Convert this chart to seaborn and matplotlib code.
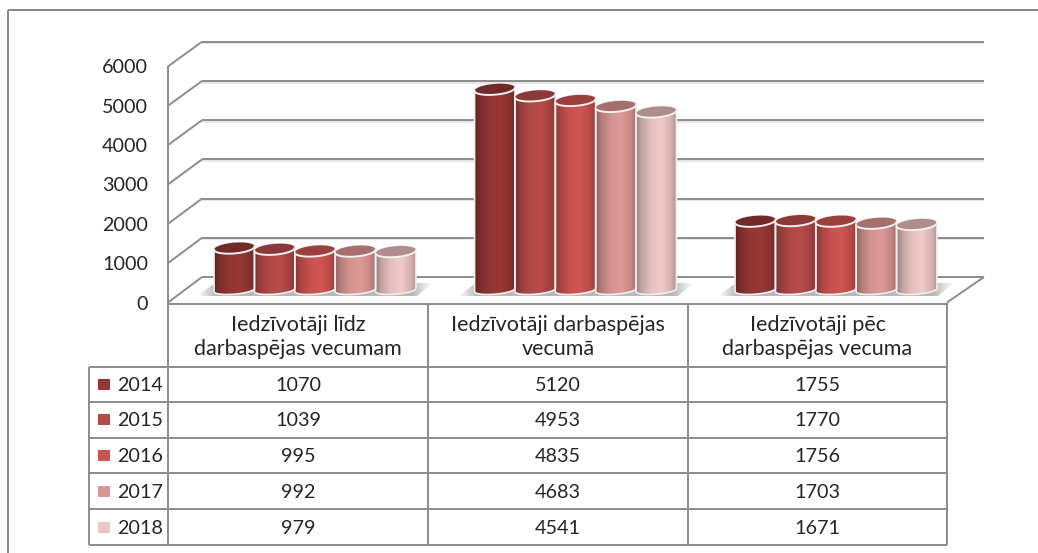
import numpy as np
import pandas as pd
import matplotlib
matplotlib.use("Agg")
import matplotlib.pyplot as plt
from matplotlib.patches import Polygon, Rectangle
import seaborn as sns

# ---------- data ----------
categories = ["Iedzīvotāji līdz\ndarbaspējas vecumam",
              "Iedzīvotāji darbaspējas\nvecumā",
              "Iedzīvotāji pēc\ndarbaspējas vecuma"]
years = ["2014", "2015", "2016", "2017", "2018"]
v2014 = [1070, 5120, 1755]
v2015 = [1039, 4953, 1770]
v2016 = [995, 4835, 1756]
v2017 = [992, 4683, 1703]
v2018 = [979, 4541, 1671]
y_ticks = [0, 1000, 2000, 3000, 4000, 5000, 6000]
series = [v2014, v2015, v2016, v2017, v2018]
body_colors = ["#953735", "#B34A48", "#CB5350", "#D99694", "#EBC4C4"]
top_colors = ["#722A29", "#8B3836", "#9C403E", "#A56F6E", "#AF8D8D"]

df = pd.DataFrame({
    "cat": np.repeat(categories, len(years)),
    "year": years * len(categories),
    "value": [s[i] for i in range(len(categories)) for s in series],
})

# ---------- layout (pixels) ----------
W, H = 1038, 553
FONT = "Lato"
TXT = "#262626"
LINE = "#8E8E8E"
sns.set_theme(style="white")
plt.rcParams["font.family"] = [FONT, "DejaVu Sans"]

fig = plt.figure(figsize=(W / 100, H / 100), dpi=100, facecolor="white")
bg = fig.add_axes([0, 0, 1, 1])
bg.set_xlim(0, W)
bg.set_ylim(H, 0)
bg.axis("off")

PX_PER_UNIT = 0.0392
BACK0, FRONT0 = 277.0, 302.5
XF0, XF1, XB0, XB1 = 168, 947, 202, 984
COLS = [168, 428, 688, 947]
ROWS = [366.5, 402, 437.5, 473, 509, 545]
LEFT = 89


def seg(xs, ys, lw=2.0, c=LINE, z=2):
    bg.plot(xs, ys, color=c, lw=lw * 0.72, solid_capstyle="butt", zorder=z)


# outer frame
seg([8, W], [10, 10], lw=2.0, c="#8A8A8A")
seg([8, 8], [10, H], lw=2.0, c="#8A8A8A")

# walls and gridlines
for t in y_ticks:
    yb = BACK0 - t * PX_PER_UNIT
    yf = FRONT0 - t * PX_PER_UNIT * 1.004
    if t:
        seg([XB0, XB1], [yb + 1.6, yb + 1.6], lw=1.5, c="#DEDEDE", z=1)
    seg([XB0, XB1], [yb, yb])
    seg([XF0, XB0], [yf, yb])
    bg.text(148, yf + 1.5, f"{t}", ha="right", va="center", fontsize=14.2, color=TXT)
seg([XF0, XF0], [FRONT0, FRONT0 - 6000 * PX_PER_UNIT * 1.004])
seg([XF1, XB1], [FRONT0, BACK0])

# table
seg([XF0, XF1], [FRONT0 + 1, FRONT0 + 1])
seg([LEFT, XF1], [ROWS[0], ROWS[0]])
for y in ROWS[1:]:
    seg([LEFT, XF1], [y, y])
for x in COLS:
    seg([x, x], [FRONT0, ROWS[-1]])
seg([LEFT, LEFT], [ROWS[0], ROWS[-1]])

for i, cat in enumerate(categories):
    cx = (COLS[i] + COLS[i + 1]) / 2
    bg.text(cx, 337, cat, ha="center", va="center", fontsize=15.5,
            color=TXT, linespacing=1.25)
for r, (yr, s, col) in enumerate(zip(years, series, body_colors)):
    cy = (ROWS[r] + ROWS[r + 1]) / 2 + 1
    bg.add_patch(Rectangle((98, cy - 6.5), 11.5, 11, fc=col, ec="none", zorder=3))
    bg.text(140.5, cy, yr, ha="center", va="center", fontsize=14.2, color=TXT)
    for i, v in enumerate(s):
        bg.text((COLS[i] + COLS[i + 1]) / 2, cy, f"{v}", ha="center",
                va="center", fontsize=14.2, color=TXT)

# floor shadows
GROUP_C = [315.0, 576.0, 836.0]
for c in GROUP_C:
    xs = np.linspace(c - 118, c + 118, 240)
    alpha = np.clip(np.minimum((xs - (c - 118)) / 18,
                               ((c + 118) - xs) / 20), 0, 1) * 0.55
    rgba = np.zeros((1, len(xs), 4))
    rgba[..., :3] = 0.5
    rgba[..., 3] = alpha
    im = bg.imshow(rgba, extent=(xs[0], xs[-1], 296, 283), aspect="auto",
                   interpolation="bilinear", zorder=2.5)
    clip = Polygon([(c - 118, 296), (c + 102, 296), (c + 118, 283), (c - 100, 283)],
                   transform=bg.transData, fc="none", ec="none")
    bg.add_patch(clip)
    im.set_clip_path(clip)
bg.set_xlim(0, W)
bg.set_ylim(H, 0)

# ---------- bars ----------
ax = fig.add_axes([0, 0, 1, 1])
ax.patch.set_alpha(0)
BASE_Y = 290.0
GROUP_STEP = 260.5
sns.barplot(data=df, x="cat", y="value", hue="year", hue_order=years,
            palette=body_colors, width=0.775, gap=0, dodge=True, legend=False,
            saturation=1, order=categories, ax=ax, zorder=3, edgecolor="none")
XLIM = (-GROUP_C[0] / GROUP_STEP, (W - GROUP_C[0]) / GROUP_STEP)
YLIM = (-(H - BASE_Y) / PX_PER_UNIT, BASE_Y / PX_PER_UNIT)


def ramp(hexcol):
    """Horizontal shading for a cylinder body."""
    rgb = np.array(matplotlib.colors.to_rgb(hexcol))
    stops = np.array([0, .12, .35, .62, .86, 1.0])
    gain = np.array([.66, .82, .97, 1.03, .90, .74])
    t = np.linspace(0, 1, 64)
    g = np.interp(t, stops, gain)
    return np.clip(rgb[None, None, :] * g[None, :, None], 0, 1)


a_px, b_top, b_bot, tilt = 20.0, 5.4, 4.2, 0.08
dyu = 1 / PX_PER_UNIT
th = np.linspace(0, 2 * np.pi, 90)

z = 4.0
for k, bar in enumerate(list(ax.patches)):
    idx = k // len(categories)
    w, h, xc = bar.get_width(), bar.get_height(), bar.get_x() + bar.get_width() / 2
    a = w / 2

    def ell(t, top, b):
        ex = xc + a * np.cos(t)
        ey = top + (b * np.sin(t) + tilt * a_px * np.cos(t)) * dyu
        return ex, ey

    t_low = np.linspace(np.pi, 2 * np.pi, 40)   # lower half
    t_up = np.linspace(0, np.pi, 40)            # upper half
    xb, yb = ell(t_low, 0, b_bot)
    xt, yt = ell(t_up, h, b_top)
    sil = Polygon(np.column_stack([np.r_[xb, xt], np.r_[yb, yt]]),
                  closed=True, transform=ax.transData, fc="none",
                  ec="#EFEFEF", lw=1.2, zorder=z + 0.2)
    ax.add_patch(sil)
    bar.set_clip_path(sil)
    img = ax.imshow(ramp(body_colors[idx]),
                    extent=(xc - a, xc + a, -10 * dyu, h + 12 * dyu),
                    aspect="auto", interpolation="bilinear", zorder=z)
    img.set_clip_path(sil)
    xe, ye = ell(th, h, b_top)
    ax.fill(xe, ye, color=top_colors[idx], lw=0, zorder=z + 0.3)
    xf, yf = ell(t_low, h, b_top)
    ax.plot(xf, yf, color="#F4F0F0", lw=1.4, zorder=z + 0.4)

ax.set_xlim(*XLIM)
ax.set_ylim(*YLIM)
ax.axis("off")

fig.savefig("out.png", dpi=100, facecolor="white")
